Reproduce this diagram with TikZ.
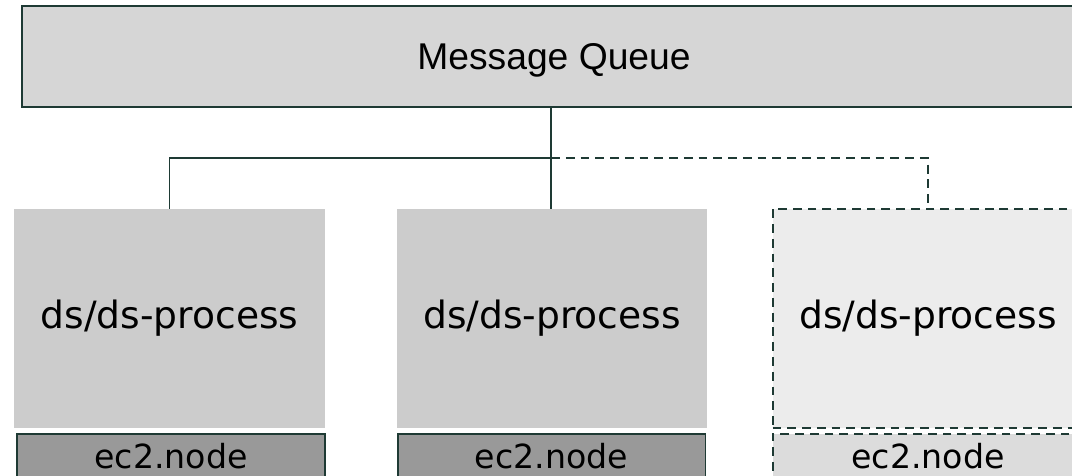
\documentclass[tikz,border=0pt]{standalone}
\usepackage{fontspec}
\setmainfont{DejaVu Sans}
\newfontfamily\qfont{Liberation Sans}
\usetikzlibrary{positioning}
\definecolor{edge}{HTML}{1E3A34}
\definecolor{qfill}{HTML}{D6D6D6}
\definecolor{pfill}{HTML}{CCCCCC}
\definecolor{nfill}{HTML}{999999}
\definecolor{pfree}{HTML}{ECECEC}
\definecolor{nfree}{HTML}{DCDCDC}
\tikzset{
  queue/.style={draw=edge, fill=qfill, line width=1.1pt, minimum width=21.28cm,
                minimum height=2.02cm, text depth=0pt,
                font=\qfont\fontsize{21.2}{24}\selectfont},
  proc/.style={fill=pfill, minimum width=6.22cm, minimum height=4.38cm,
               inner sep=0pt, font=\fontsize{21.4}{24}\selectfont},
  host/.style={draw=edge, fill=nfill, line width=1.1pt, minimum width=6.16cm,
               minimum height=0.88cm, inner sep=0pt, text depth=0pt,
               font=\fontsize{18.9}{22}\selectfont},
  spare/.style={draw=edge, line width=1.1pt, dash pattern=on 5pt off 3.4pt},   % not yet running
  link/.style={draw=edge, line width=1.1pt},
}
\begin{document}
\begin{tikzpicture}[x=0.02cm, y=-0.02cm]
  \useasboundingbox (0,0) rectangle (1072,476);
  \clip (0,0) rectangle (1072,476);
  \node[queue] (mq) at (554,56.5) {Message Queue};
  \node[proc] (p1) at (169.5,318.5) {ds/ds-process};
  \node[proc] (p2) at (552,318.5)   {ds/ds-process};
  \node[proc, spare, fill=pfree] (p3) at (928,318.5) {ds/ds-process};
  \node[host] (n1) at (171,456)   {ec2.node};
  \node[host] (n2) at (551.5,456) {ec2.node};
  \node[host, spare, fill=nfree, minimum width=6.22cm] (n3) at (928,456) {ec2.node};
  \coordinate (hub) at (551,158);
  \draw[link] (hub |- mq.south) -- (hub);
  \draw[link] (hub) -| (p1.north);
  \draw[link] (hub) -- (hub |- p2.north);
  \draw[spare] (hub) -| (p3.north);
\end{tikzpicture}
\end{document}
